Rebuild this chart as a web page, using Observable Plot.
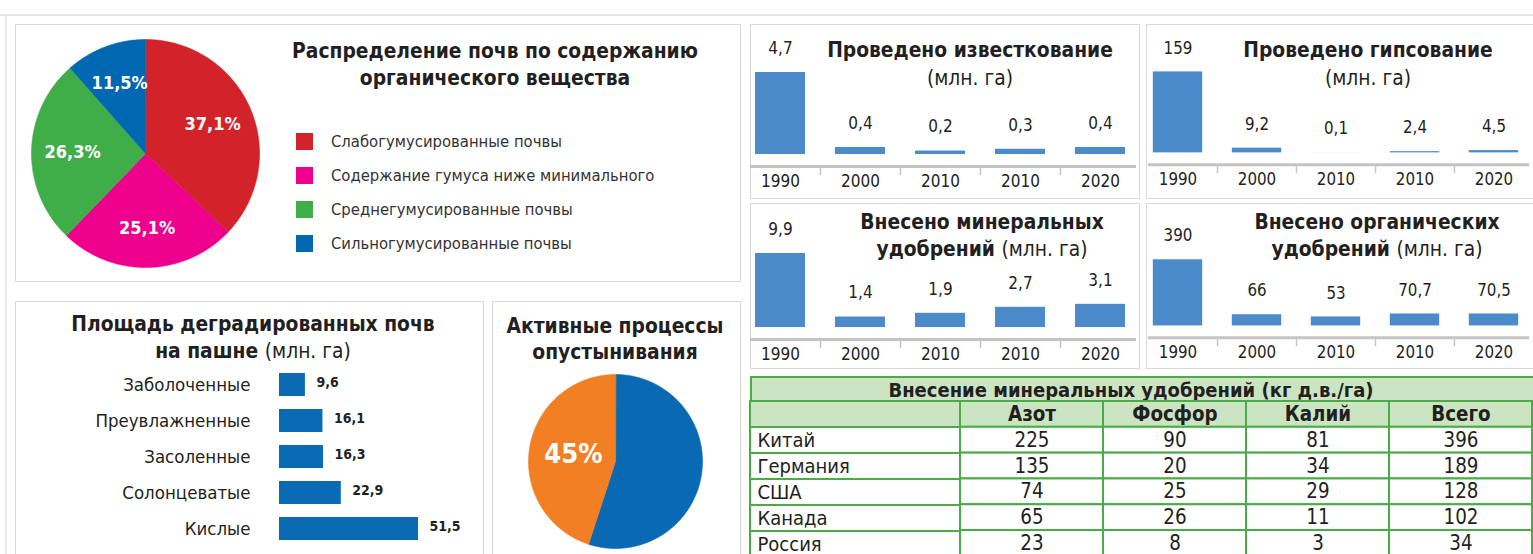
<!DOCTYPE html>
<html><head><meta charset="utf-8">
<script src="https://cdn.jsdelivr.net/npm/d3@7"></script>
<script src="https://cdn.jsdelivr.net/npm/@observablehq/plot@0.6"></script>
<style>
html,body{margin:0;padding:0;background:#fff;}
body{width:1533px;height:554px;overflow:hidden;position:relative;font-family:'Liberation Sans Narrow','DejaVu Sans Condensed','Roboto',sans-serif;color:#231f20;}
.abs{position:absolute;}
.panel{position:absolute;border:1.5px solid #d9d9d9;box-sizing:border-box;}
.title{position:absolute;transform:translateX(-50%);white-space:nowrap;text-align:center;font-weight:bold;font-size:20.8px;line-height:27px;color:#231f20;}
.title span{font-weight:normal;}
#legend1 .leg-swatch{height:34px;padding-bottom:0;display:flex;align-items:center;}
#legend1 .leg-swatch > svg{margin-right:18px;}
#legend1 .leg-swatch-label{font-size:16.5px;color:#333;}
</style></head><body>
<div class="abs" style="left:0;top:14px;width:1533px;height:2px;background:#e6e6e6"></div>
<div class="abs" style="left:5px;top:15px;width:1.5px;height:540px;background:#e9e9e9"></div>

<div class="panel" style="left:15px;top:24px;width:726px;height:258px"></div>
<div class="panel" style="left:15px;top:301px;width:469px;height:260px"></div>
<div class="panel" style="left:492px;top:301px;width:249px;height:260px"></div>
<div class="panel" style="left:750px;top:24px;width:390px;height:175px"></div>
<div class="panel" style="left:1146px;top:24px;width:400px;height:175px"></div>
<div class="panel" style="left:750px;top:203px;width:390px;height:166px"></div>
<div class="panel" style="left:1146px;top:203px;width:400px;height:166px"></div>

<div id="pie1" class="abs" style="left:31px;top:39px"></div>
<div id="legend1" class="abs" style="left:296px;top:124px;width:420px"></div>
<div class="title" style="left:495px;top:38px">Распределение почв по содержанию<br>органического вещества</div>

<div id="hbar" class="abs" style="left:15px;top:357px"></div>
<div class="title" style="left:253px;top:311px">Площадь деградированных почв<br>на пашне <span>(млн. га)</span></div>

<div id="pie2" class="abs" style="left:528px;top:374px"></div>
<div class="title" style="left:615px;top:313px;line-height:26px">Активные процессы<br>опустынивания</div>

<div id="barA" class="abs" style="left:740px;top:24px"></div>
<div id="barB" class="abs" style="left:1138px;top:24px"></div>
<div id="barC" class="abs" style="left:740px;top:203px"></div>
<div id="barD" class="abs" style="left:1138px;top:203px"></div>
<div class="title" style="left:970px;top:36px;line-height:28px">Проведено известкование<br><span>(млн. га)</span></div>
<div class="title" style="left:1368px;top:36px;line-height:28px">Проведено гипсование<br><span>(млн. га)</span></div>
<div class="title" style="left:982px;top:209px">Внесено минеральных<br>удобрений <span>(млн. га)</span></div>
<div class="title" style="left:1377px;top:209px">Внесено органических<br>удобрений <span>(млн. га)</span></div>

<div class="abs" style="left:750px;top:376px;width:786px;height:26px;box-sizing:border-box;background:#cbe5c3;border:2px solid #48ad45;border-bottom:none;font-weight:bold;font-size:20px;line-height:24px;text-align:center;padding-right:24px">Внесение минеральных удобрений (кг д.в./га)</div>
<div id="tblNames" class="abs" style="left:749px;top:400px"></div>
<div id="tblValues" class="abs" style="left:959px;top:400px"></div>

<script>
// ---------- DATA ----------
const soilCategories = ["Слабогумусированные почвы","Содержание гумуса ниже минимального","Среднегумусированные почвы","Сильногумусированные почвы"];
const soilShares = [37.1, 25.1, 26.3, 11.5];
const soilColors = ["#d2232a","#ec008c","#3fae49","#0067b1"];

const degradedTypes = ["Заболоченные","Преувлажненные","Засоленные","Солонцеватые","Кислые"];
const degradedArea = [9.6, 16.1, 16.3, 22.9, 51.5];

const desertLabels = ["Прочие","Активные процессы опустынивания"];
const desertShares = [55, 45];
const desertColors = ["#0a69b3","#f27f24"];

const yearLabels = ["1990","2000","2010","2010","2020"];
const limingValues = [4.7, 0.4, 0.2, 0.3, 0.4];
const gypsumValues = [159, 9.2, 0.1, 2.4, 4.5];
const mineralValues = [9.9, 1.4, 1.9, 2.7, 3.1];
const organicValues = [390, 66, 53, 70.7, 70.5];

const tableCountries = ["Китай","Германия","США","Канада","Россия"];
const tableColumns = ["Азот","Фосфор","Калий","Всего"];
const nitrogen = [225, 135, 74, 65, 23];
const phosphorus = [90, 20, 25, 26, 8];
const potassium = [81, 34, 29, 11, 3];
const totalFert = [396, 189, 128, 102, 34];

// ---------- HELPERS ----------
const FONT = "'Liberation Sans Narrow','DejaVu Sans Condensed','Roboto',sans-serif";
const fmt = v => String(v).replace(".", ",");
const baseStyle = {background: "transparent", fontFamily: FONT, color: "#231f20", overflow: "visible"};

function pieGeometry(labels, values) {
  const total = d3.sum(values);
  const pts = [], centers = [];
  let acc = 0;
  labels.forEach((lab, i) => {
    const a0 = acc / total * 2 * Math.PI;
    acc += values[i];
    const a1 = acc / total * 2 * Math.PI;
    pts.push({key: lab, x: 0, y: 0});
    const n = Math.max(2, Math.ceil((a1 - a0) / (Math.PI / 360)));
    for (let k = 0; k <= n; k++) {
      const a = a0 + (a1 - a0) * k / n;
      pts.push({key: lab, x: Math.sin(a), y: Math.cos(a)});
    }
    const am = (a0 + a1) / 2;
    centers.push({key: lab, value: values[i], x: Math.sin(am), y: Math.cos(am)});
  });
  return {pts, centers};
}

// ---------- PIE 1 ----------
{
  const g = pieGeometry(soilCategories, soilShares);
  const el = Plot.plot({
    width: 228, height: 228, margin: 0,
    x: {domain: [-1, 1], axis: null}, y: {domain: [-1, 1], axis: null},
    color: {domain: soilCategories, range: soilColors},
    style: baseStyle,
    marks: [
      Plot.line(g.pts, {x: "x", y: "y", z: "key", fill: "key", stroke: "key", strokeWidth: 0.6, curve: "linear-closed"}),
      Plot.text(g.centers, {x: d => d.x * 0.64, y: d => d.y * 0.66, text: d => fmt(d.value) + "%", fill: "white", fontWeight: "bold", fontSize: 18})
    ]
  });
  document.getElementById("pie1").append(el);
  const leg = Plot.legend({
    color: {type: "ordinal", domain: soilCategories, range: soilColors},
    legend: "swatches", columns: 1, swatchSize: 17, className: "leg",
    style: {fontFamily: FONT, fontSize: "16.5px", color: "#333", margin: 0}
  });
  document.getElementById("legend1").append(leg);
}

// ---------- HORIZONTAL BARS ----------
{
  const data = degradedTypes.map((t, i) => ({type: t, value: degradedArea[i]}));
  const el = Plot.plot({
    width: 465, height: 198, marginLeft: 264, marginRight: 62, marginTop: 0, marginBottom: 0,
    style: {...baseStyle, fontSize: "18.5px"},
    x: {domain: [0, d3.max(degradedArea)], axis: null},
    y: {domain: degradedTypes, padding: 0.37, tickSize: 0, tickPadding: 29, label: null},
    marks: [
      Plot.barX(data, {x: "value", y: "type", fill: "#0b6ab4"}),
      Plot.text(data, {x: "value", y: "type", text: d => fmt(d.value), textAnchor: "start", dx: 11, dy: -2, fontWeight: "bold", fontSize: 14})
    ]
  });
  document.getElementById("hbar").append(el);
}

// ---------- PIE 2 ----------
{
  const g = pieGeometry(desertLabels, desertShares);
  const el = Plot.plot({
    width: 174, height: 174, margin: 0,
    x: {domain: [-1, 1], axis: null}, y: {domain: [-1, 1], axis: null},
    color: {domain: desertLabels, range: desertColors},
    style: baseStyle,
    marks: [
      Plot.line(g.pts, {x: "x", y: "y", z: "key", fill: "key", stroke: "key", strokeWidth: 0.6, curve: "linear-closed"}),
      Plot.text(g.centers.slice(1), {x: d => d.x * 0.49, y: d => d.y * 0.49, text: d => fmt(d.value) + "%", fill: "white", fontWeight: "bold", fontSize: 27})
    ]
  });
  document.getElementById("pie2").append(el);
}

// ---------- VERTICAL BAR PANELS ----------
function barPanel(id, values, height, top, bottom) {
  const data = values.map((v, i) => ({i, v}));
  const idx = d3.range(values.length);
  const el = Plot.plot({
    width: 400, height, marginLeft: 0, marginRight: 0, marginTop: top, marginBottom: bottom,
    style: {...baseStyle, fontSize: "17px"},
    x: {domain: idx, paddingInner: 0.375, paddingOuter: 0.1875, tickSize: 0, tickPadding: 20, tickFormat: i => yearLabels[i], label: null},
    y: {domain: [0, d3.max(values)], axis: null},
    marks: [
      Plot.barY(data, {x: "i", y: "v", fill: "#4b8bca"}),
      Plot.text(data, {x: "i", y: "v", text: d => fmt(d.v), dy: -24, fontSize: 17}),
      Plot.ruleY([0], {dy: 12, stroke: "#c4c4c4", strokeWidth: 3, insetLeft: 10, insetRight: 4}),
      Plot.ruleX(idx.slice(1), {x: d => d, y1: () => 0, y2: () => 0, dx: -40, dy: 14, insetBottom: -7, stroke: "#c4c4c4", strokeWidth: 1.5})
    ]
  });
  document.getElementById(id).append(el);
}
barPanel("barA", limingValues, 174, 48, 44);
barPanel("barB", gypsumValues, 174, 48, 44);
barPanel("barC", mineralValues, 165, 50, 41);
barPanel("barD", organicValues, 165, 57, 41);

// ---------- TABLE ----------
{
  const rows = ["hdr", ...tableCountries];
  const GREEN = "#48ad45", HFILL = "#cbe5c3";
  const names = Plot.plot({
    width: 212, height: 158, margin: 1,
    style: {...baseStyle, fontSize: "20px"},
    x: {domain: ["name"], padding: 0, axis: null},
    y: {domain: rows, padding: 0, axis: null},
    marks: [
      Plot.cell(["hdr"], {x: () => "name", y: d => d, fill: HFILL, stroke: GREEN, strokeWidth: 2}),
      Plot.cell(tableCountries, {x: () => "name", y: d => d, fill: "white", stroke: GREEN, strokeWidth: 2}),
      Plot.text(tableCountries, {y: d => d, text: d => d, frameAnchor: "left", textAnchor: "start", dx: 7, fontSize: 20})
    ]
  });
  document.getElementById("tblNames").append(names);

  const series = [nitrogen, phosphorus, potassium, totalFert];
  const cells = [];
  tableColumns.forEach((c, j) => tableCountries.forEach((r, i) => cells.push({col: c, row: r, v: series[j][i]})));
  const vals = Plot.plot({
    width: 578, height: 158, margin: 1,
    style: {...baseStyle, fontSize: "20px"},
    x: {domain: tableColumns, padding: 0, axis: null},
    y: {domain: rows, padding: 0, axis: null},
    marks: [
      Plot.cell(tableColumns, {x: d => d, y: () => "hdr", fill: HFILL, stroke: GREEN, strokeWidth: 2}),
      Plot.cell(cells, {x: "col", y: "row", fill: "white", stroke: GREEN, strokeWidth: 2}),
      Plot.text(tableColumns, {x: d => d, y: () => "hdr", text: d => d, fontWeight: "bold", fontSize: 20.5}),
      Plot.text(cells, {x: "col", y: "row", text: d => String(d.v), fontSize: 20.5})
    ]
  });
  document.getElementById("tblValues").append(vals);
}
</script>
</body></html>
